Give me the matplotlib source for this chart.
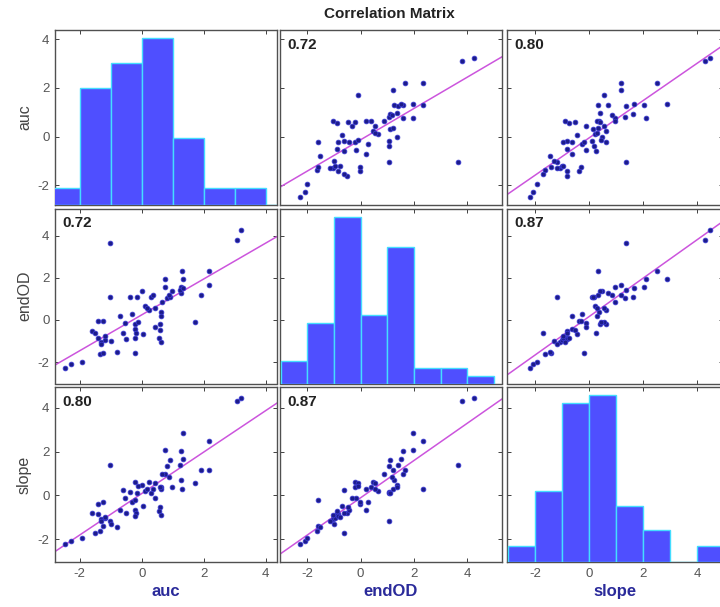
import numpy as np
import matplotlib
matplotlib.use("Agg")
import matplotlib.pyplot as plt

plt.rcParams['font.family'] = ['Liberation Sans', 'DejaVu Sans']
plt.rcParams['axes.unicode_minus'] = False

names = ["auc", "endOD", "slope"]

auc = [-2.49, -2.27, -1.92, -1.03, -1.03, -1.40, -1.24, -1.60, -1.51, -1.40,
       -1.30, -1.19, -0.98, -1.30, -1.35, -1.24, -0.81, -0.70, -0.54, -0.52,
       -0.38, -0.16, -0.32, -0.22, -0.22, -0.18, -0.22, 0.05, -0.22, 0.00,
       0.30, 0.35, 0.11, 0.22, 0.43, 0.63, 0.63, 0.43, 0.60, 0.60,
       0.56, 0.63, 0.76, 0.76, 0.65, 0.81, 0.92, 0.97, 1.30, 1.35,
       1.28, 1.28, 1.24, 1.71, 1.93, 2.18, 2.18, 3.08, 3.22, 0.87,
       0.16, -0.59, 1.35, -1.19, -0.13]
endOD = [-2.26, -2.10, -2.02, 3.66, 1.07, -0.03, -0.03, -0.52, -0.63, -0.84,
         -1.03, -0.95, -0.98, -1.15, -1.63, -1.58, -1.53, 0.20, -0.16, -0.90,
         1.07, 1.07, 0.27, -0.21, -0.43, -0.63, -0.84, -0.68, -1.58, 1.37,
         1.10, 1.21, 0.66, 0.47, 0.55, 0.39, 0.20, -0.32, -0.21, -0.48,
         -0.87, -1.03, 1.97, 1.58, 0.87, 1.06, 1.10, 1.37, 2.34, 1.97,
         1.58, 1.26, 1.42, -0.11, 1.21, 2.34, 1.66, 3.79, 4.26, 1.18,
         0.55, -0.63, 1.50, -0.76, -0.08]
slope = [-2.21, -2.09, -1.94, 1.37, -1.19, -0.39, -0.32, -0.81, -1.72, -0.84,
         -1.08, -1.03, -1.30, -1.19, -1.64, -1.42, -1.45, -0.66, -0.14, -0.81,
         0.16, 0.10, -0.29, 0.62, -0.66, -0.81, -0.96, -0.47, -0.21, 0.46,
         0.12, 0.31, 0.21, 0.61, 0.54, 0.36, 0.27, -0.14, 0.40, -0.54,
         -0.74, -0.89, 2.09, 0.96, 0.96, 1.32, 1.62, 0.39, 0.31, 2.87,
         2.04, 0.69, 1.37, 0.54, 1.17, 2.49, 1.17, 4.30, 4.45, 0.84,
         0.30, 0.24, 1.67, -0.99, 0.42]

# histogram bins and counts
hist_edges = [-3, -2, -1, 0, 1, 2, 3, 4, 5]
auc_counts = [2, 14, 17, 20, 8, 2, 2, 0]
endOD_counts = [3, 8, 22, 9, 18, 2, 2, 1]
slope_counts = [2, 9, 20, 21, 7, 4, 0, 2]

corr_labels = {(0, 1): "0.72", (0, 2): "0.80", (1, 0): "0.72",
               (1, 2): "0.87", (2, 0): "0.80", (2, 1): "0.87"}

data = [np.array(auc), np.array(endOD), np.array(slope)]
counts = [auc_counts, endOD_counts, slope_counts]
lims = [(-2.8, 4.37), (-3.02, 5.3), (-3.05, 4.95)]
ticks = [-2, 0, 2, 4]

W, H = 720, 607
fig = plt.figure(figsize=(W / 100, H / 100), dpi=100)

col_left = [55, 280, 507]
col_w = [222, 222, 216]
row_top = [30, 208.5, 387]
row_h = 175

bar_face = '#4f4fff'
bar_edge = '#44ddff'
line_col = '#cc55dd'
pt_face = '#1c1c8a'
pt_edge = '#3a3ad0'
frame_col = '#505050'
tick_col = '#404040'

for i in range(3):
    for j in range(3):
        rect = [col_left[j] / W, 1 - (row_top[i] + row_h) / H, col_w[j] / W, row_h / H]
        ax = fig.add_axes(rect)
        ax.set_xlim(lims[j])
        ax.set_ylim(lims[i])
        ax.set_xticks(ticks)
        ax.set_yticks(ticks)
        ax.tick_params(direction='in', length=3, width=0.7, top=True, right=True,
                       colors=tick_col, labelsize=9.5, labelcolor='#555555', pad=4)
        if j != 0:
            ax.set_yticklabels([])
        if i != 2:
            ax.set_xticklabels([])
        for s in ax.spines.values():
            s.set_color(frame_col)
            s.set_linewidth(1.0)
        if i == j:
            ax2 = ax.twinx()
            ax2.set_ylim(0, max(counts[i]) * 1.05)
            ax2.set_yticks([])
            for s in ax2.spines.values():
                s.set_visible(False)
            left = np.array(hist_edges[:-1], dtype=float)
            widths = np.diff(hist_edges)
            ax2.bar(left, counts[i], width=widths, align='edge', color=bar_face,
                    edgecolor=bar_edge, linewidth=1.0)
            ax2.set_xlim(lims[j])
        else:
            x = data[j]
            y = data[i]
            ax.plot(x, y, 'o', ms=3.4, mfc=pt_face, mec=pt_edge, mew=0.6, zorder=3)
            p = np.polyfit(x, y, 1)
            xx = np.array(lims[j])
            ax.plot(xx, np.polyval(p, xx), color=line_col, lw=1.1, zorder=2)
            ax.text(0.035, 0.955, corr_labels[(i, j)], transform=ax.transAxes,
                    ha='left', va='top', fontsize=11, fontweight='bold', color='#222222')
        if j == 0:
            ax.set_ylabel(names[i], fontsize=11.5, color='#444444', labelpad=4)
        if i == 2:
            ax.set_xlabel(names[j], fontsize=12, fontweight='bold', color='#2a2a9a', labelpad=3)

fig.text(389 / W, 1 - 14 / H, "Correlation Matrix", ha='center', va='center',
         fontsize=11, fontweight='bold', color='#222222')

fig.savefig("out.png", dpi=100)
